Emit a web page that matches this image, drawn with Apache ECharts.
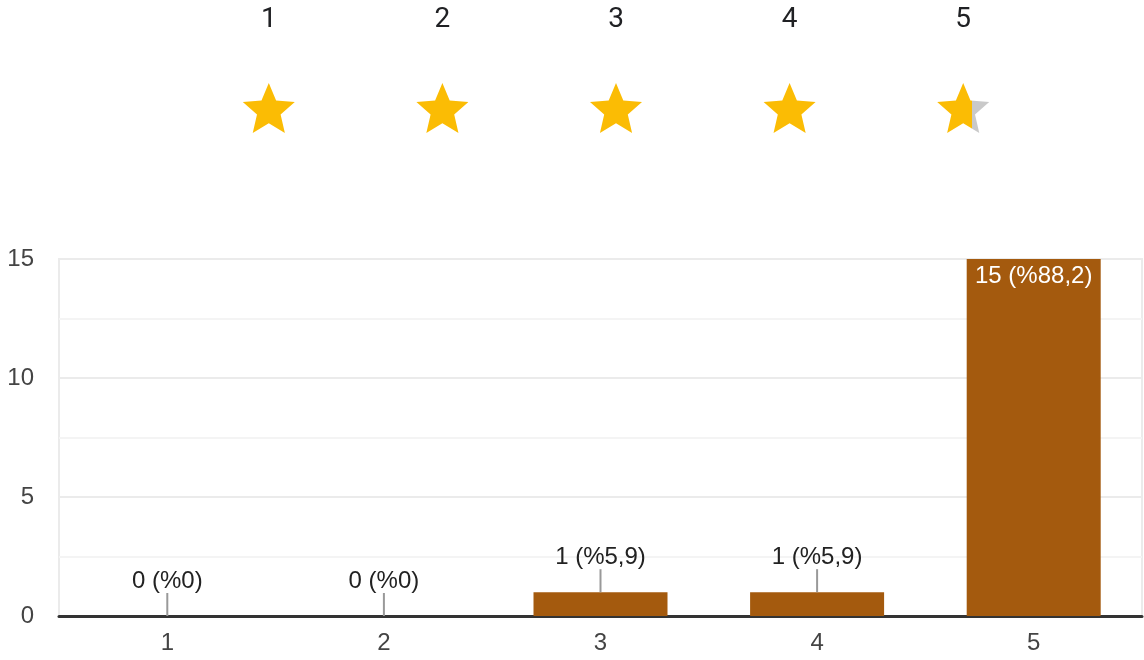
<!DOCTYPE html>
<html>
<head>
<meta charset="utf-8">
<script src="https://cdn.jsdelivr.net/npm/echarts@6/dist/echarts.min.js"></script>
<style>
html,body{margin:0;padding:0;background:#fff;}
#chart{width:1144px;height:660px;}
</style>
</head>
<body>
<div id="chart"></div>
<script>
// ---- data ----
var categories = ['1', '2', '3', '4', '5'];
var counts = [0, 0, 1, 1, 15];
var percentLabels = ['%0', '%0', '%5,9', '%5,9', '%88,2'];
var starLabels = ['1', '2', '3', '4', '5'];
var starFill = [1, 1, 1, 1, 0.67];
var yTicks = { min: 0, max: 15, interval: 5 };

var GOLD = '#FBBC04', GREY = '#C9C9C9', BAR = '#A45A0E';
var STAR = 'path://M12 17.27L18.18 21l-1.64-7.03L22 9.24l-7.19-.61L12 2 9.19 8.63 2 9.24l5.46 4.73L5.82 21z';
var FONT = '"Liberation Sans", Arial, sans-serif';

// bars: value with label; the tall bar's label sits inside
var barData = counts.map(function (v, i) {
  var inside = v >= yTicks.max * 0.5;
  return {
    value: v,
    label: inside
      ? { position: 'insideTop', distance: 5, color: '#ffffff' }
      : { position: 'top', distance: 23, color: '#222222' }
  };
});
// leader lines for outside labels
var leaderData = counts.map(function (v, i) {
  return v >= yTicks.max * 0.5 ? [i, '-'] : [i, v];
});
var starData = starLabels.map(function (s, i) {
  var f = starFill[i];
  return {
    value: [i, 0],
    itemStyle: {
      opacity: 1,
      color: {
        type: 'linear', x: 0, y: 0, x2: 1, y2: 0,
        colorStops: [
          { offset: 0, color: GOLD }, { offset: f, color: GOLD },
          { offset: f, color: GREY }, { offset: 1, color: GREY }
        ]
      }
    }
  };
});

var chart = echarts.init(document.getElementById('chart'), null, { renderer: 'canvas' });
chart.setOption({
  animation: false,
  backgroundColor: '#ffffff',
  grid: [
    { left: 59, right: 2, top: 259, bottom: 44, show: true, borderColor: '#ebebeb', borderWidth: 2, backgroundColor: 'transparent' },
    { left: 182, width: 868, top: 36, height: 144 }
  ],
  xAxis: [
    {
      type: 'category', gridIndex: 0, data: categories,
      axisLine: { show: true, lineStyle: { color: '#333333', width: 3 } },
      axisTick: { show: false },
      axisLabel: { fontSize: 24, color: '#444444', margin: 15, fontFamily: FONT }
    },
    {
      type: 'category', gridIndex: 1, data: starLabels, position: 'top',
      axisLine: { show: false }, axisTick: { show: false },
      axisLabel: { fontSize: 28, color: '#202124', margin: 2, fontFamily: 'Roboto, sans-serif' }
    }
  ],
  yAxis: [
    {
      type: 'value', gridIndex: 0, min: yTicks.min, max: yTicks.max, interval: yTicks.interval,
      axisLine: { show: false }, axisTick: { show: false },
      axisLabel: { fontSize: 24, color: '#444444', margin: 25, fontFamily: FONT },
      splitLine: { show: true, lineStyle: { color: '#ebebeb', width: 2 } },
      minorTick: { show: false, splitNumber: 2 },
      minorSplitLine: { show: true, lineStyle: { color: '#f4f4f4', width: 2 } }
    },
    {
      type: 'category', gridIndex: 1, data: ['stars'], show: false
    }
  ],
  series: [
    {
      type: 'bar', xAxisIndex: 0, yAxisIndex: 0, data: barData, barWidth: 134,
      itemStyle: { color: BAR },
      label: {
        show: true, fontSize: 24, fontFamily: FONT,
        formatter: function (p) { return counts[p.dataIndex] + ' (' + percentLabels[p.dataIndex] + ')'; }
      },
      z: 2
    },
    {
      type: 'scatter', xAxisIndex: 0, yAxisIndex: 0, data: leaderData,
      symbol: 'rect', symbolSize: [2, 23], symbolOffset: [0, -11.5],
      itemStyle: { color: '#999999', opacity: 1 }, silent: true, z: 3
    },
    {
      type: 'scatter', xAxisIndex: 1, yAxisIndex: 1, data: starData,
      symbol: STAR, symbolSize: [52, 50], silent: true,
      itemStyle: { opacity: 1 }
    }
  ]
});
</script>
</body>
</html>
